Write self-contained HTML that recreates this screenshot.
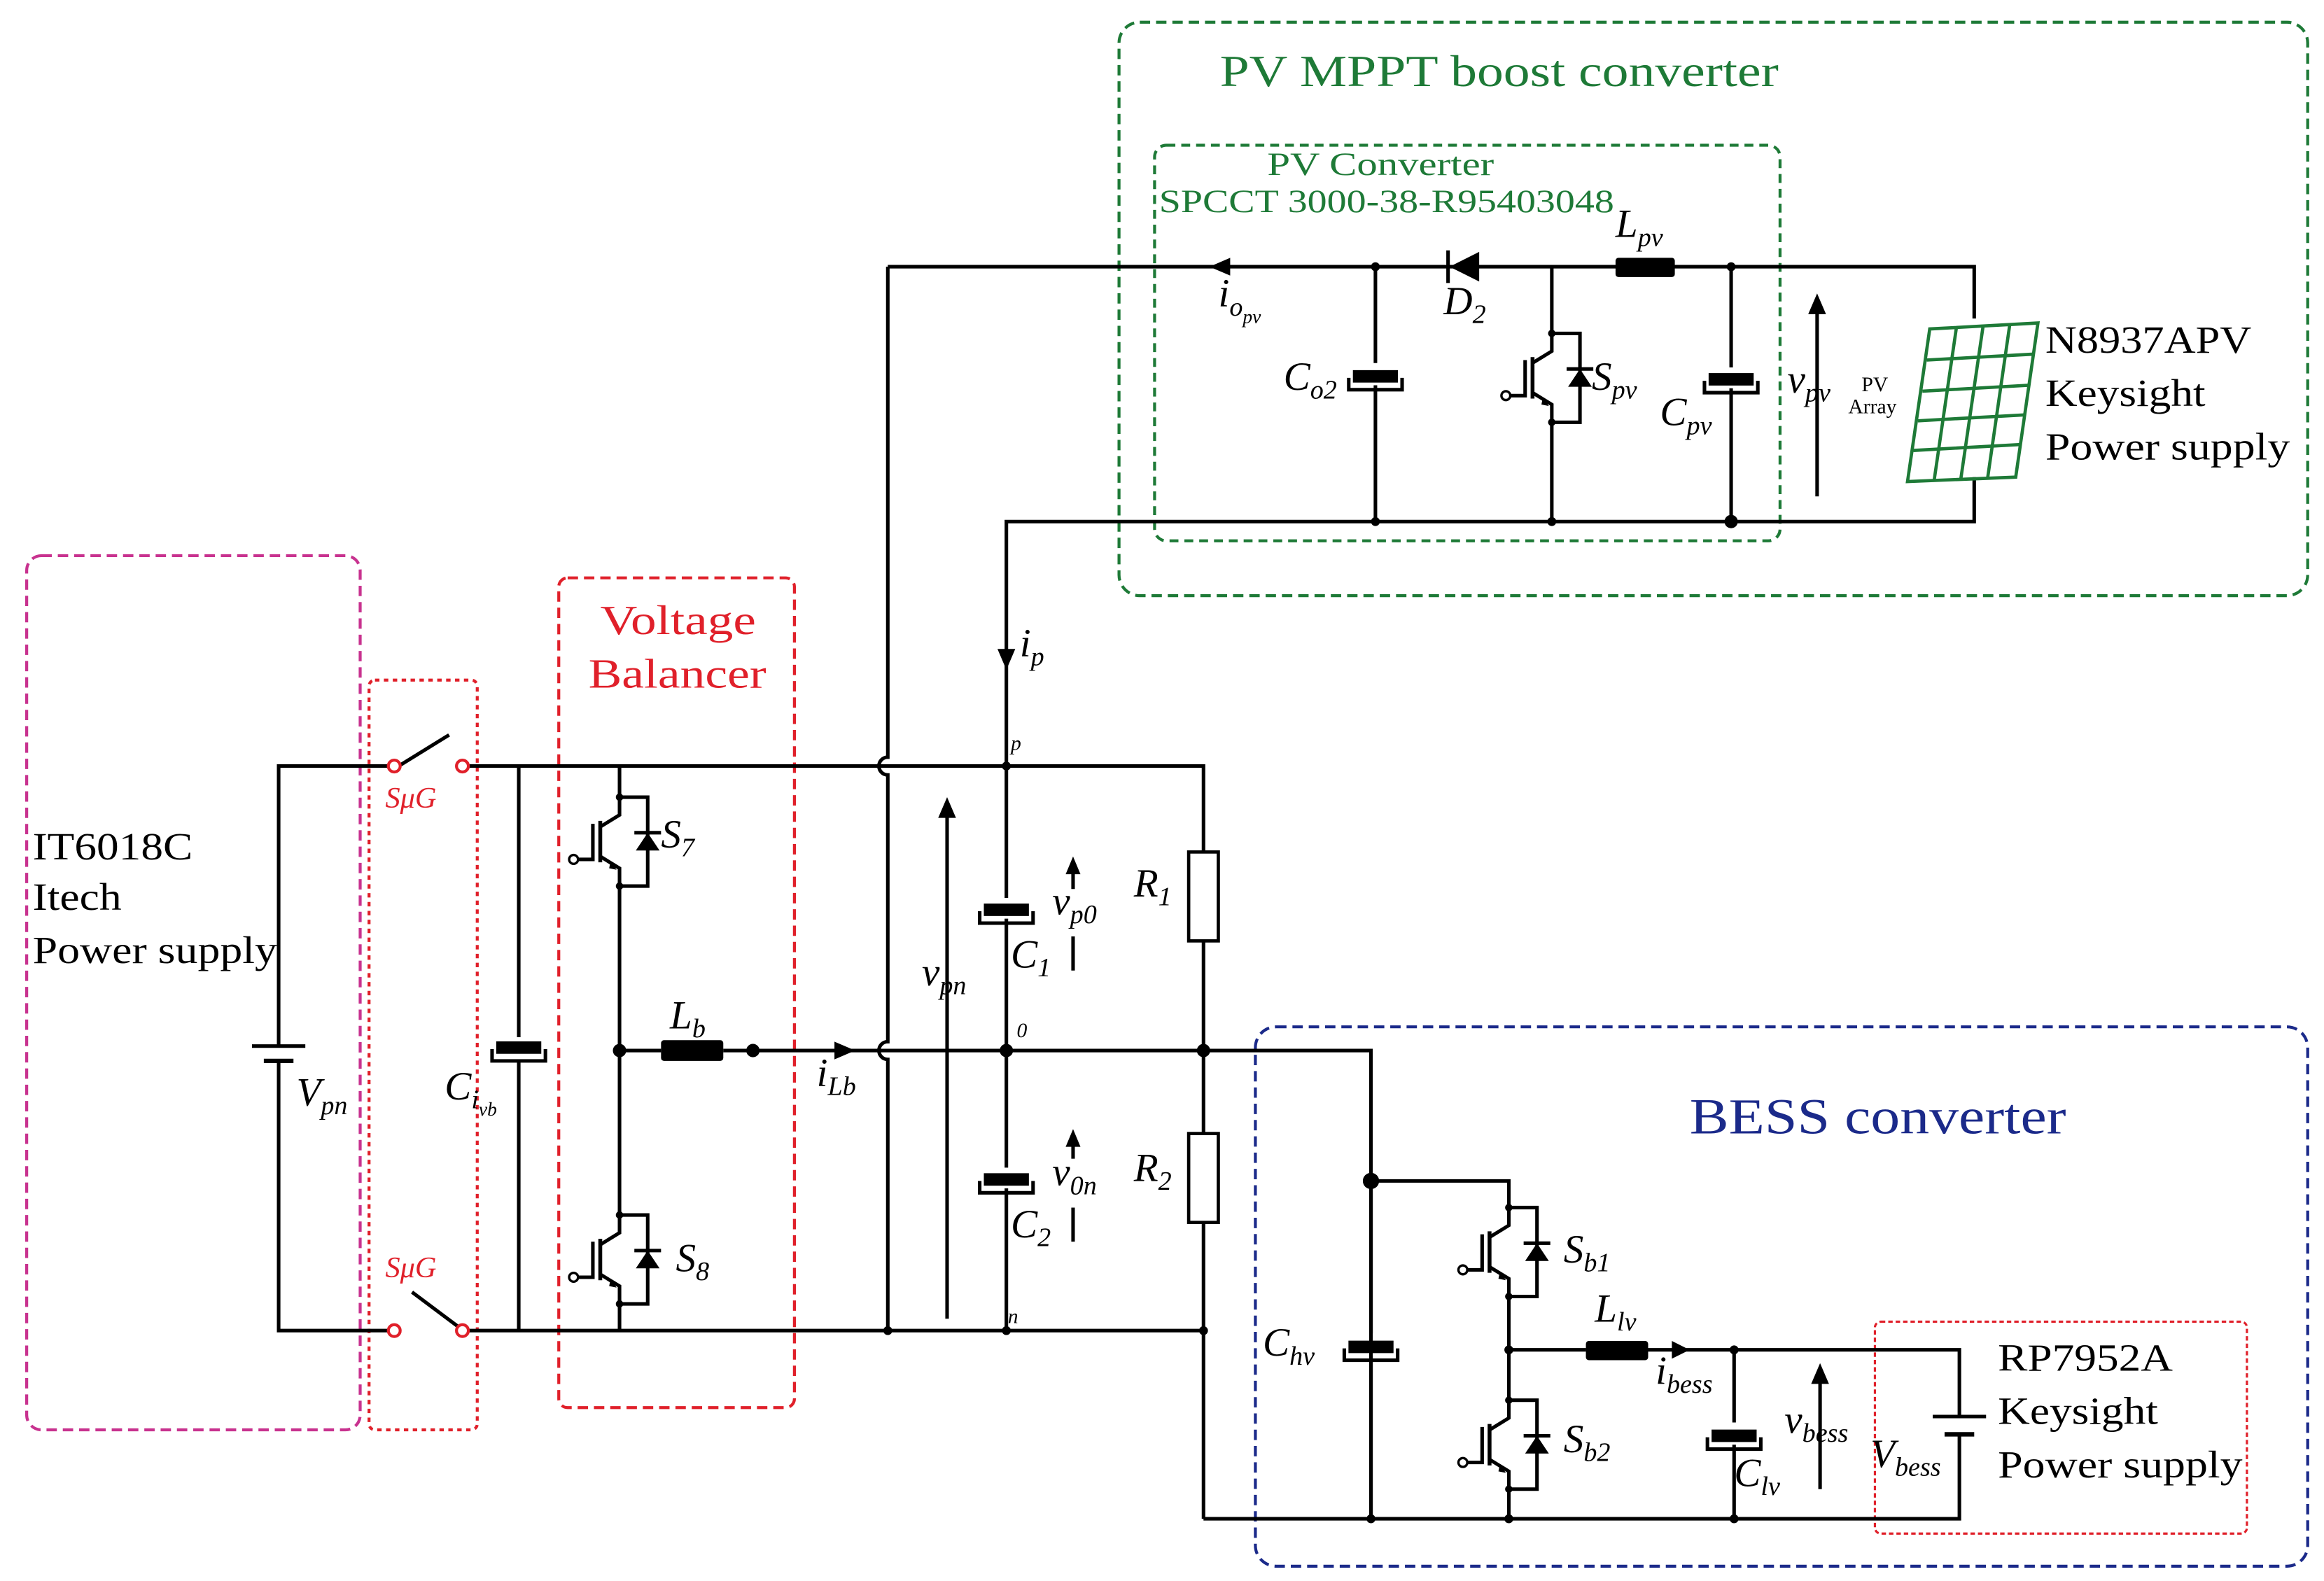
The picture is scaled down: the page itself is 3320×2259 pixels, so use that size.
<!DOCTYPE html>
<html><head><meta charset="utf-8"><style>
html,body{margin:0;padding:0;background:#fff}
svg{display:block}
text{font-family:"Liberation Serif",serif}
.m{font-style:italic}
</style></head><body>
<svg width="3320" height="2259" viewBox="0 0 1568 1067" preserveAspectRatio="none" xmlns="http://www.w3.org/2000/svg">
<defs>
<g id="igbt" stroke="#000" stroke-width="2.4" fill="none">
<path d="M0,-30 V-18 L-13,-10 M-13,10 L0,18 V30"/>
<path d="M-13,-14 V14" stroke-width="2.6"/>
<path d="M-18,-12 V12 H-28"/>
<circle cx="-31" cy="12" r="3" fill="#fff" stroke-width="1.6"/>
<polygon points="-6,13 -2,19 -7,18" fill="#000" stroke="none"/>
<path d="M0,-30 H19 V30 H0"/>
<polygon points="11,6 27,6 19,-6" fill="#000" stroke="none"/>
<path d="M10,-6 H28"/>
<circle cx="0" cy="-30" r="2.5" fill="#000" stroke="none"/>
<circle cx="0" cy="30" r="2.5" fill="#000" stroke="none"/>
</g>
<g id="cap" stroke="#000" stroke-width="2.4" fill="none">
<rect x="-14" y="-6" width="28" height="6" fill="#000"/>
<path d="M-18,-2 V6 H18 V-2"/>
</g>
</defs>

<g fill="none" stroke-width="2">
<rect x="18" y="375" width="225" height="590" rx="10" stroke="#c8328f" stroke-dasharray="7,4"/>
<rect x="249" y="459" width="73" height="506" rx="4" stroke="#e0202a" stroke-dasharray="3,3"/>
<rect x="377" y="390" width="159" height="560" rx="6" stroke="#e0202a" stroke-dasharray="7,4"/>
<rect x="755" y="15" width="802" height="387" rx="14" stroke="#1e7a37" stroke-dasharray="7,4"/>
<rect x="779" y="98" width="422" height="267" rx="8" stroke="#1e7a37" stroke-dasharray="6,4"/>
<rect x="847" y="693" width="710" height="364" rx="14" stroke="#1b2a8a" stroke-dasharray="7,4"/>
<rect x="1265" y="892" width="251" height="143" rx="4" stroke="#e0202a" stroke-dasharray="3,2" stroke-width="1.5"/>
</g>

<g stroke="#000" stroke-width="2.4" fill="none">
<path d="M266,517 H188 V706 M188,716 V898 H266"/>
<path d="M170,706 H206" /><path d="M178,716 H198" stroke-width="3"/>
<path d="M269,517 L303,496"/>
<path d="M278,872 L310,896"/>
<path d="M315,517 H812 V575 M812,635 V765 M812,825 V1025"/>
<path d="M315,898 H812"/>
<path d="M350,517 V700 M350,716 V898"/>
<path d="M418,517 V538 M418,598 V820 M418,880 V898"/>
<path d="M418,709 H446 M488,709 H925 V1025"/>
<path d="M599,180 V511 A6,6 0 0 0 599,523 V703 A6,6 0 0 0 599,715 V898"/>
<path d="M599,180 H1332 V215 M1332,322 V352 H679 V606 M679,620 V788 M679,802 V898"/>
<path d="M928,180 V245 M928,260 V352"/>
<path d="M1047,180 V225 M1047,285 V352"/>
<path d="M1168,180 V248 M1168,262 V352"/>
<path d="M925,797 H1018 V815 M1018,875 V945 M1018,1005 V1025"/>
<path d="M1018,911 H1070 M1112,911 H1322 V956 M1322,968 V1025 H812"/>
<path d="M1170,911 V960 M1170,975 V1025"/>
<path d="M925,797 V900 M925,915 V1025"/>
<path d="M1304,956 H1340" /><path d="M1312,968 H1332" stroke-width="3"/>
<path d="M639,890 V548"/>
<path d="M1226,335 V208"/>
<path d="M1228,1005 V930"/>
<path d="M724,600 V588 M724,632 V655"/>
<path d="M724,782 V772 M724,815 V838"/>
</g>
<g fill="#fff" stroke="#e0202a" stroke-width="2">
<circle cx="266" cy="517" r="4"/><circle cx="312" cy="517" r="4"/>
<circle cx="266" cy="898" r="4"/><circle cx="312" cy="898" r="4"/>
</g>
<g fill="#000">
<polygon points="639,538 633,552 645,552"/>
<polygon points="1226,198 1220,212 1232,212"/>
<polygon points="1228,920 1222,934 1234,934"/>
<polygon points="724,578 719,590 729,590"/>
<polygon points="724,762 719,774 729,774"/>
<polygon points="679,452 673,438 685,438"/>
<polygon points="577,709 563,703 563,715"/>
<polygon points="816,180 830,174 830,186"/>
<polygon points="1140,911 1128,905 1128,917"/>
<circle cx="418" cy="709" r="4.5"/><circle cx="508" cy="709" r="4.5"/>
<circle cx="679" cy="709" r="4.5"/><circle cx="812" cy="709" r="4.5"/>
<circle cx="925" cy="797" r="5.5"/><circle cx="1018" cy="911" r="3"/>
<circle cx="1170" cy="911" r="3"/><circle cx="1018" cy="1025" r="3"/>
<circle cx="1170" cy="1025" r="3"/><circle cx="925" cy="1025" r="3"/>
<circle cx="679" cy="517" r="3"/><circle cx="679" cy="898" r="3"/>
<circle cx="599" cy="898" r="3"/><circle cx="812" cy="898" r="3"/>
<circle cx="928" cy="180" r="3"/><circle cx="1168" cy="180" r="3"/>
<circle cx="928" cy="352" r="3"/><circle cx="1047" cy="352" r="3"/>
<circle cx="1168" cy="352" r="4.5"/>
<rect x="446" y="702" width="42" height="14" rx="2"/>
<rect x="1090" y="174" width="40" height="13" rx="2"/>
<rect x="1070" y="905" width="42" height="13" rx="2"/>
<polygon points="978,180 998,170 998,190"/>
</g>
<path d="M977,169 V191" stroke="#000" stroke-width="2.4"/>
<g fill="#fff" stroke="#000" stroke-width="2.2">
<rect x="802" y="575" width="20" height="60"/>
<rect x="802" y="765" width="20" height="60"/>
</g>
<use href="#cap" x="350" y="710"/>
<use href="#cap" x="679" y="617"/>
<use href="#cap" x="679" y="799"/>
<use href="#cap" x="928" y="257"/>
<use href="#cap" x="1168" y="259"/>
<use href="#cap" x="925" y="912"/>
<use href="#cap" x="1170" y="972"/>
<use href="#igbt" x="418" y="568"/>
<use href="#igbt" x="418" y="850"/>
<use href="#igbt" x="1047" y="255"/>
<use href="#igbt" x="1018" y="845"/>
<use href="#igbt" x="1018" y="975"/>
<g stroke="#1e7a37" stroke-width="2.2" fill="none">
<polygon points="1302,222 1375,218 1360,322 1287,325"/>
<path d="M1300,243 L1372,239 M1297,264 L1369,260 M1294,284 L1366,280 M1291,304 L1363,300"/>
<path d="M1320,221 L1305,324 M1338,220 L1323,323 M1356,219 L1341,323"/>
</g>

<g font-size="26" fill="#000">
<text x="22" y="580" textLength="108" lengthAdjust="spacingAndGlyphs">IT6018C</text>
<text x="22" y="614" textLength="60" lengthAdjust="spacingAndGlyphs">Itech</text>
<text x="22" y="650" textLength="165" lengthAdjust="spacingAndGlyphs">Power supply</text>
<text x="1380" y="238" textLength="139" lengthAdjust="spacingAndGlyphs">N8937APV</text>
<text x="1380" y="274" textLength="108" lengthAdjust="spacingAndGlyphs">Keysight</text>
<text x="1380" y="310" textLength="165" lengthAdjust="spacingAndGlyphs">Power supply</text>
<text x="1348" y="925" textLength="118" lengthAdjust="spacingAndGlyphs">RP7952A</text>
<text x="1348" y="961" textLength="108" lengthAdjust="spacingAndGlyphs">Keysight</text>
<text x="1348" y="997" textLength="165" lengthAdjust="spacingAndGlyphs">Power supply</text>
</g>
<g fill="#e0202a">
<text x="405" y="428" font-size="28" textLength="105" lengthAdjust="spacingAndGlyphs">Voltage</text>
<text x="397" y="464" font-size="28" textLength="120" lengthAdjust="spacingAndGlyphs">Balancer</text>
<text x="260" y="545" font-size="20" class="m">SμG</text>
<text x="260" y="862" font-size="20" class="m">SμG</text>
</g>
<g fill="#1e7a37">
<text x="823" y="58" font-size="30" textLength="377" lengthAdjust="spacingAndGlyphs">PV MPPT boost converter</text>
<text x="855" y="118" font-size="22" textLength="153" lengthAdjust="spacingAndGlyphs">PV Converter</text>
<text x="782" y="143" font-size="22" textLength="307" lengthAdjust="spacingAndGlyphs">SPCCT 3000-38-R95403048</text>
</g>
<text x="1256" y="264" font-size="14" fill="#000">PV</text>
<text x="1247" y="279" font-size="14" fill="#000">Array</text>
<text x="1140" y="765" font-size="34" fill="#1b2a8a" textLength="254" lengthAdjust="spacingAndGlyphs">BESS converter</text>
<g fill="#000" font-size="27" class="m">
<text x="200" y="746">V<tspan font-size="18" dy="6">pn</tspan></text>
<text x="300" y="742">C<tspan font-size="18" dy="6">i</tspan><tspan font-size="13" dy="5">vb</tspan></text>
<text x="446" y="572">S<tspan font-size="18" dy="6">7</tspan></text>
<text x="456" y="858">S<tspan font-size="18" dy="6">8</tspan></text>
<text x="452" y="694">L<tspan font-size="18" dy="6">b</tspan></text>
<text x="551" y="733">i<tspan font-size="18" dy="6">Lb</tspan></text>
<text x="688" y="443">i<tspan font-size="18" dy="6">p</tspan></text>
<text x="622" y="665">v<tspan font-size="18" dy="6">pn</tspan></text>
<text x="682" y="653">C<tspan font-size="18" dy="6">1</tspan></text>
<text x="682" y="835">C<tspan font-size="18" dy="6">2</tspan></text>
<text x="710" y="617">v<tspan font-size="18" dy="6">p0</tspan></text>
<text x="710" y="800">v<tspan font-size="18" dy="6">0n</tspan></text>
<text x="765" y="605">R<tspan font-size="18" dy="6">1</tspan></text>
<text x="765" y="797">R<tspan font-size="18" dy="6">2</tspan></text>
<text x="822" y="207">i<tspan font-size="18" dy="6">o</tspan><tspan font-size="13" dy="5">pv</tspan></text>
<text x="974" y="212">D<tspan font-size="18" dy="6">2</tspan></text>
<text x="1090" y="160">L<tspan font-size="18" dy="6">pv</tspan></text>
<text x="866" y="263">C<tspan font-size="18" dy="6">o2</tspan></text>
<text x="1074" y="263">S<tspan font-size="18" dy="6">pv</tspan></text>
<text x="1120" y="287">C<tspan font-size="18" dy="6">pv</tspan></text>
<text x="1206" y="265">v<tspan font-size="18" dy="6">pv</tspan></text>
<text x="852" y="915">C<tspan font-size="18" dy="6">hv</tspan></text>
<text x="1055" y="852">S<tspan font-size="18" dy="6">b1</tspan></text>
<text x="1055" y="980">S<tspan font-size="18" dy="6">b2</tspan></text>
<text x="1076" y="892">L<tspan font-size="18" dy="6">lv</tspan></text>
<text x="1117" y="934">i<tspan font-size="18" dy="6">bess</tspan></text>
<text x="1170" y="1003">C<tspan font-size="18" dy="6">lv</tspan></text>
<text x="1204" y="967">v<tspan font-size="18" dy="6">bess</tspan></text>
<text x="1262" y="990">V<tspan font-size="18" dy="6">bess</tspan></text>
</g>
<g font-size="14" class="m" fill="#000">
<text x="682" y="506">p</text><text x="686" y="700">0</text><text x="680" y="893">n</text>
</g>
</svg>
</body></html>
